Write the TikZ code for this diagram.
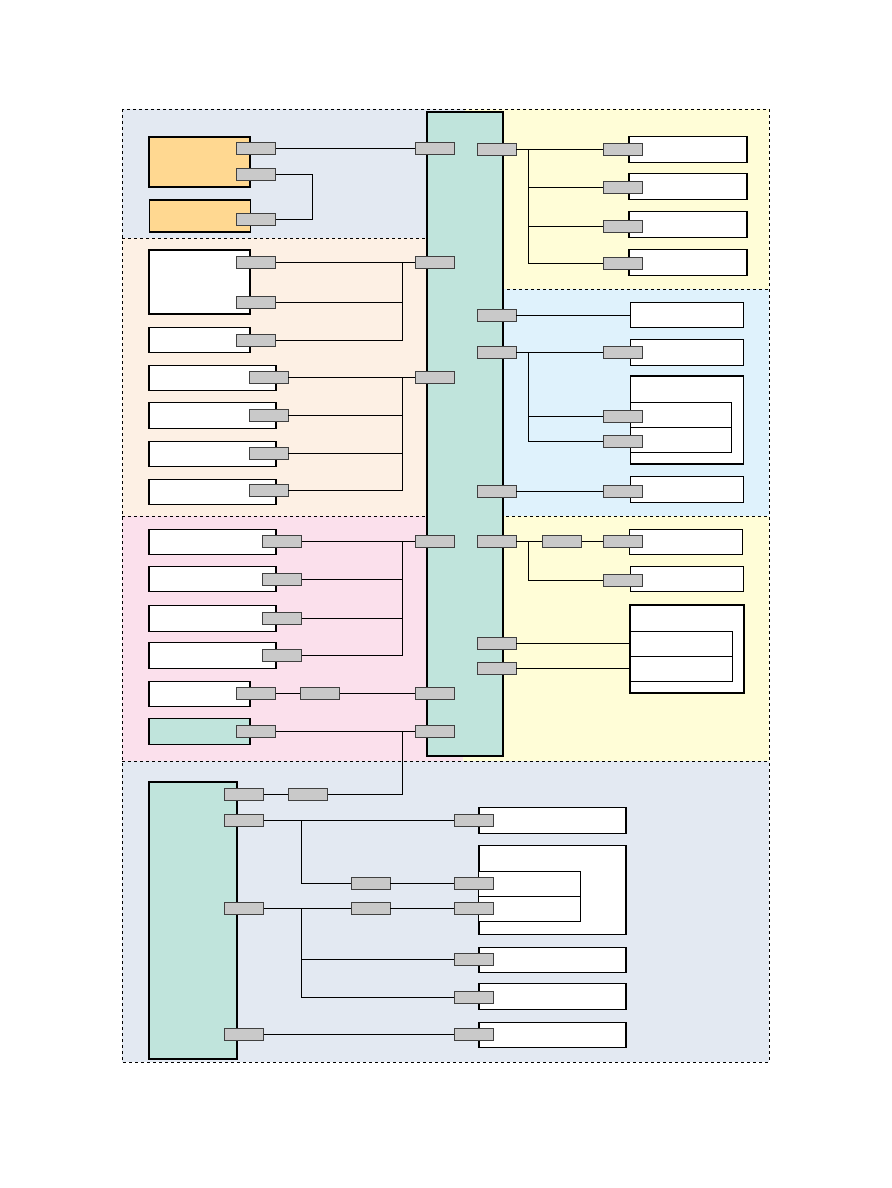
\documentclass[tikz,border=0pt]{standalone}
\usepackage{xcolor}
\usepackage{tikz}
\usetikzlibrary{positioning, calc}
\definecolor{zonegray}{RGB}{227,233,242}
\definecolor{zonepeach}{RGB}{253,240,228}
\definecolor{zonepink}{RGB}{251,224,236}
\definecolor{zoneyellow}{RGB}{255,253,215}
\definecolor{zoneblue}{RGB}{223,242,252}
\definecolor{busgreen}{RGB}{192,228,220}
\definecolor{unitorange}{RGB}{255,216,145}
\definecolor{portgray}{RGB}{201,201,201}
\tikzset{
    zone/.style={draw=black, dashed, line width=0.6pt},
    bus/.style={
        rectangle, draw, fill=busgreen, line width=1.4pt,
        inner sep=0pt, minimum width=76pt, minimum height=644pt
    },
    unitbox/.style={rectangle, draw, fill=white, line width=1.3pt, inner sep=0pt, minimum height=25.5pt},
    shortbox/.style={unitbox, minimum width=101pt},
    longbox/.style={unitbox, minimum width=127pt},
    rightbox/.style={unitbox, minimum width=113pt},
    lowbox/.style={unitbox, minimum width=147pt},
    innerbox/.style={rectangle, draw, fill=white, line width=0.9pt, inner sep=0pt, minimum height=25pt},
    portbox/.style={rectangle, draw=black!75, fill=portgray, line width=0.7pt, inner sep=0pt, minimum width=39pt, minimum height=12pt},
    wire/.style={draw, line width=0.8pt}
}
\begin{document}
\begin{tikzpicture}[x=1pt, y=-1pt]
    \useasboundingbox (0,0) rectangle (891,1188);
    % Zones
    \fill[zonegray] (122,109) rectangle (465,238);
    \fill[zonepeach] (122,238) rectangle (465,516);
    \fill[zonepink] (122,516) rectangle (463,761);
    \fill[zoneyellow] (465,109) rectangle (769,289);
    \fill[zoneblue] (465,289) rectangle (769,516);
    \fill[zoneyellow] (463,516) rectangle (769,761);
    \fill[zonegray] (122,761) rectangle (769,1062);
    \draw[zone] (122,238) -- (465,238);
    \draw[zone] (465,289) -- (769,289);
    \draw[zone] (122,516) -- (769,516);
    \draw[zone] (122,761) -- (769,761);
    \draw[zone] (122,109) rectangle (769,1062);

    % Bus
    \node[bus] (bus) at (465,434) {};

    % Left units
    \node[shortbox, fill=unitorange, minimum height=50pt] (psu1) at (199.5,162) {};
    \node[shortbox, fill=unitorange, minimum height=32pt] (psu2) at (200,216) {};
    \node[shortbox, minimum height=64pt] (drv1) at (199.5,282) {};
    \node[shortbox] (drv2) at (199.5,340) {};
    \node[longbox] (drv3) at (212.5,378) {};
    \node[longbox] (drv4) at (212.5,415.5) {};
    \node[longbox] (drv5) at (212.5,454) {};
    \node[longbox] (drv6) at (212.5,492) {};
    \node[longbox] (sen1) at (212.5,542) {};
    \node[longbox] (sen2) at (212.5,579) {};
    \node[longbox] (sen3) at (212.5,618.5) {};
    \node[longbox] (sen4) at (212.5,655.5) {};
    \node[shortbox] (sen5) at (199.5,694) {};
    \node[shortbox, fill=busgreen] (sen6) at (199.5,731.5) {};

    % Right units
    \node[unitbox, minimum width=118pt] (out1) at (688,149.5) {};
    \node[unitbox, minimum width=118pt] (out2) at (688,186.5) {};
    \node[unitbox, minimum width=118pt] (out3) at (688,224.5) {};
    \node[unitbox, minimum width=118pt] (out4) at (688,262.5) {};
    \node[rightbox, line width=0.9pt] (ext1) at (687,315) {};
    \node[rightbox] (ext2) at (687,352.5) {};
    \node[rightbox, minimum height=88pt] (ext3) at (687,420) {};
    \node[innerbox, minimum width=101.5pt] (ext3a) at (681,414.5) {};
    \node[innerbox, minimum width=101.5pt] (ext3b) at (681,439.5) {};
    \node[rightbox, line width=0.9pt] (ext4) at (687,489.5) {};
    \node[rightbox, line width=0.9pt] (opt1) at (685.5,541.8) {};
    \node[rightbox, line width=0.9pt] (opt2) at (686.5,578.8) {};
    \node[rightbox, minimum width=114pt, minimum height=88pt] (opt3) at (687,649) {};
    \node[innerbox, minimum width=102pt] (opt3a) at (681,643.8) {};
    \node[innerbox, minimum width=102pt] (opt3b) at (681,668.8) {};

    % Lower units
    \node[unitbox, fill=busgreen, minimum width=88pt, minimum height=277pt] (ctl) at (193,920.5) {};
    \node[lowbox] (dev1) at (552.5,820.5) {};
    \node[lowbox, minimum height=89pt] (dev2) at (552.5,889.8) {};
    \node[innerbox, minimum width=101.5pt] (dev2a) at (529.5,883.8) {};
    \node[innerbox, minimum width=101.5pt] (dev2b) at (529.5,908.8) {};
    \node[lowbox] (dev3) at (552.5,960) {};
    \node[lowbox] (dev4) at (552.5,996.5) {};
    \node[lowbox] (dev5) at (552.5,1035) {};

    % Ports
    \node[portbox] (bl1) at (435,148.5) {};
    \node[portbox] (bl2) at (435,262) {};
    \node[portbox] (bl3) at (435,377) {};
    \node[portbox] (bl4) at (435,541) {};
    \node[portbox] (bl5) at (435,693.5) {};
    \node[portbox] (bl6) at (435,731) {};
    \node[portbox] (br1) at (496.5,149) {};
    \node[portbox] (br2) at (496.5,315) {};
    \node[portbox] (br3) at (496.5,352) {};
    \node[portbox] (br4) at (496.5,491) {};
    \node[portbox] (br5) at (496.5,541.5) {};
    \node[portbox] (br6) at (496.5,643.8) {};
    \node[portbox] (br7) at (496.5,668.8) {};

    \node[portbox] (psu1p1) at (256,148.5) {};
    \node[portbox] (psu1p2) at (256,174.5) {};
    \node[portbox] (psu2p) at (256,219) {};
    \node[portbox] (drv1p1) at (256,262) {};
    \node[portbox] (drv1p2) at (256,302) {};
    \node[portbox] (drv2p) at (256,340) {};
    \node[portbox] (drv3p) at (268.5,377) {};
    \node[portbox] (drv4p) at (268.5,415) {};
    \node[portbox] (drv5p) at (268.5,453) {};
    \node[portbox] (drv6p) at (268.5,490) {};
    \node[portbox] (sen1p) at (282,541) {};
    \node[portbox] (sen2p) at (282,579) {};
    \node[portbox] (sen3p) at (282,618) {};
    \node[portbox] (sen4p) at (282,655) {};
    \node[portbox] (sen5p) at (256,693.5) {};
    \node[portbox] (sen5m) at (320,693.5) {};
    \node[portbox] (sen6p) at (256,731) {};

    \node[portbox] (out1p) at (622.5,149) {};
    \node[portbox] (out2p) at (622.5,187) {};
    \node[portbox] (out3p) at (622.5,226) {};
    \node[portbox] (out4p) at (622.5,263) {};
    \node[portbox] (ext2p) at (622.5,352) {};
    \node[portbox] (ext3p1) at (622.5,416) {};
    \node[portbox] (ext3p2) at (622.5,441) {};
    \node[portbox] (ext4p) at (622.5,491) {};
    \node[portbox] (opt1m) at (562,541.5) {};
    \node[portbox] (opt1p) at (622.5,541.5) {};
    \node[portbox] (opt2p) at (622.5,580) {};

    \node[portbox] (ctlp1) at (244,794.5) {};
    \node[portbox] (ctlm) at (308,794.5) {};
    \node[portbox] (ctlp2) at (244,820.3) {};
    \node[portbox] (ctlp3) at (244,908.3) {};
    \node[portbox] (ctlp4) at (244,1034.3) {};
    \node[portbox] (dev1p) at (473.5,820.3) {};
    \node[portbox] (dev2m1) at (370.5,883.3) {};
    \node[portbox] (dev2p1) at (473.5,883.3) {};
    \node[portbox] (dev2m2) at (370.5,908.3) {};
    \node[portbox] (dev2p2) at (473.5,908.3) {};
    \node[portbox] (dev3p) at (473.5,959.3) {};
    \node[portbox] (dev4p) at (473.5,997.3) {};
    \node[portbox] (dev5p) at (473.5,1034.3) {};

    % Junctions
    \coordinate (psuj) at (312,174.5);
    \coordinate (drvj1) at (402,262);
    \coordinate (drvj2) at (402,377);
    \coordinate (senj) at (402,541);
    \coordinate (ctlj) at (402,731);
    \coordinate (outj) at (528,149);
    \coordinate (extj) at (528,352);
    \coordinate (optj) at (528,541.5);
    \coordinate (devj1) at (301,820.3);
    \coordinate (devj2) at (301,908.3);

    % Wires
    \draw[wire] (psu1p1.east) -- (bl1.west);
    \draw[wire] (psu1p2.east) -- (psuj) |- (psu2p.east);
    \draw[wire] (drv1p1.east) -- (bl2.west);
    \draw[wire] (drv1p2.east) -| (drvj1);
    \draw[wire] (drv2p.east) -| (drvj1);
    \draw[wire] (drv3p.east) -- (bl3.west);
    \draw[wire] (drv4p.east) -| (drvj2);
    \draw[wire] (drv5p.east) -| (drvj2);
    \draw[wire] (drv6p.east) -| (drvj2);
    \draw[wire] (sen1p.east) -- (bl4.west);
    \draw[wire] (sen2p.east) -| (senj);
    \draw[wire] (sen3p.east) -| (senj);
    \draw[wire] (sen4p.east) -| (senj);
    \draw[wire] (sen5p.east) -- (sen5m.west);
    \draw[wire] (sen5m.east) -- (bl5.west);
    \draw[wire] (sen6p.east) -- (bl6.west);
    \draw[wire] (ctlp1.east) -- (ctlm.west);
    \draw[wire] (ctlm.east) -| (ctlj);

    \draw[wire] (br1.east) -- (out1p.west);
    \draw[wire] (out2p.west) -| (outj);
    \draw[wire] (out3p.west) -| (outj);
    \draw[wire] (out4p.west) -| (outj);
    \draw[wire] (br2.east) -- (ext1.west);
    \draw[wire] (br3.east) -- (ext2p.west);
    \draw[wire] (ext3p1.west) -| (extj);
    \draw[wire] (ext3p2.west) -| (extj);
    \draw[wire] (br4.east) -- (ext4p.west);
    \draw[wire] (br5.east) -- (opt1m.west);
    \draw[wire] (opt1m.east) -- (opt1p.west);
    \draw[wire] (opt2p.west) -| (optj);
    \draw[wire] (br6.east) -- (opt3a.west);
    \draw[wire] (br7.east) -- (opt3b.west);

    \draw[wire] (ctlp2.east) -- (dev1p.west);
    \draw[wire] (dev2m1.west) -| (devj1);
    \draw[wire] (dev2m1.east) -- (dev2p1.west);
    \draw[wire] (ctlp3.east) -- (dev2m2.west);
    \draw[wire] (dev2m2.east) -- (dev2p2.west);
    \draw[wire] (dev3p.west) -| (devj2);
    \draw[wire] (dev4p.west) -| (devj2);
    \draw[wire] (ctlp4.east) -- (dev5p.west);
\end{tikzpicture}
\end{document}
